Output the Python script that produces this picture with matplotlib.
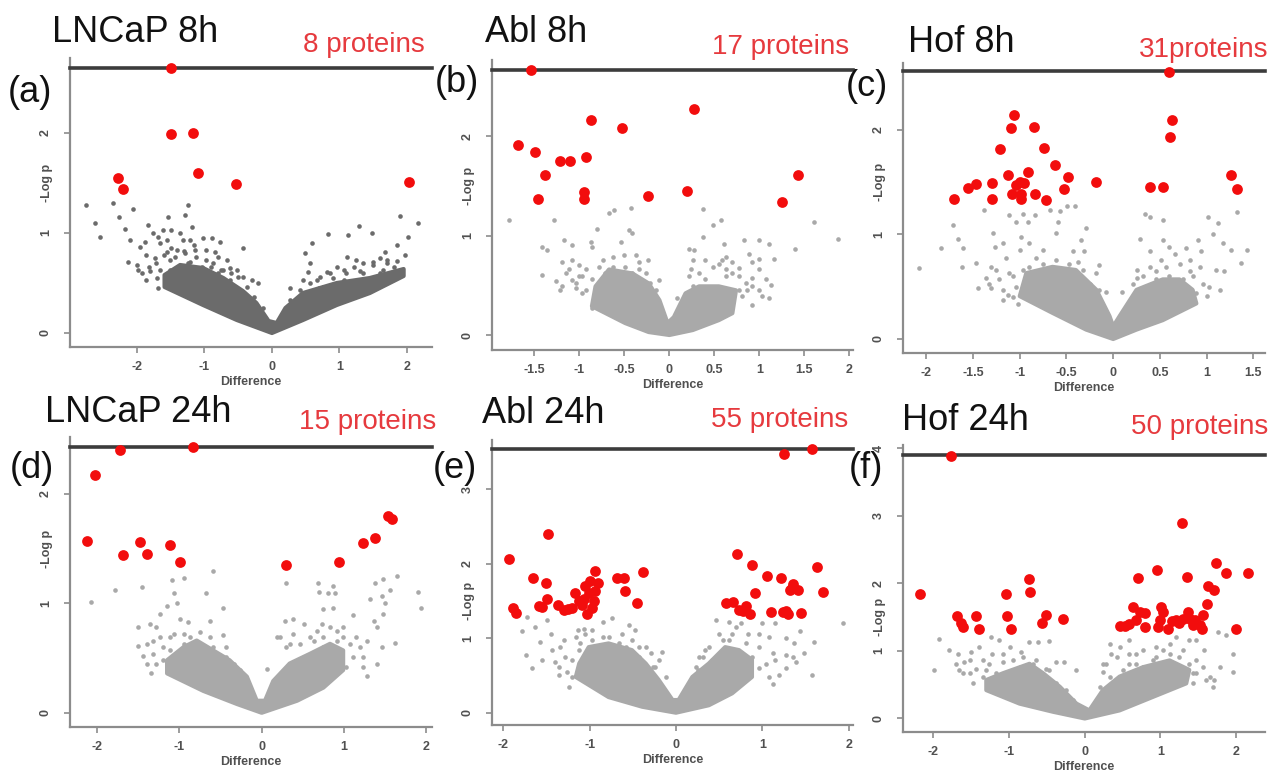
import matplotlib
matplotlib.use("Agg")
import matplotlib.pyplot as plt

plt.rcParams['font.family'] = ['Liberation Sans', 'DejaVu Sans']

# ---------------- data ----------------
titles = ["LNCaP 8h", "Abl 8h", "Hof 8h", "LNCaP 24h", "Abl 24h", "Hof 24h"]
counts = ["8 proteins", "17 proteins", "31proteins", "15 proteins", "55 proteins", "50 proteins"]
letters = ["(a)", "(b)", "(c)", "(d)", "(e)", "(f)"]
xticks_list = [[-2, -1, 0, 1, 2],
               [-1.5, -1, -0.5, 0, 0.5, 1, 1.5, 2],
               [-2, -1.5, -1, -0.5, 0, 0.5, 1, 1.5],
               [-2, -1, 0, 1, 2],
               [-2, -1, 0, 1, 2],
               [-2, -1, 0, 1, 2]]
xtick_labels = [["-2", "-1", "0", "1", "2"],
                ["-1.5", "-1", "-0.5", "0", "0.5", "1", "1.5", "2"],
                ["-2", "-1.5", "-1", "-0.5", "0", "0.5", "1", "1.5"],
                ["-2", "-1", "0", "1", "2"],
                ["-2", "-1", "0", "1", "2"],
                ["-2", "-1", "0", "1", "2"]]
yticks_list = [[0, 1, 2], [0, 1, 2], [0, 1, 2], [0, 1, 2], [0, 1, 2, 3], [0, 1, 2, 3, 4]]
threshold = [2.65, 2.67, 2.56, 2.43, 3.54, 3.90]

# significant proteins (red)
a_red_x = [-1.50, -1.50, -1.17, -1.09, -0.53, -2.28, -2.20, 2.03]
a_red_y = [2.65, 1.99, 2.00, 1.60, 1.49, 1.55, 1.44, 1.51]
b_red_x = [-1.54, 0.27, -0.87, -0.53, -1.68, -1.49, -1.22, -1.10, -0.93, -1.38, 1.43, -1.46, -0.95, -0.95, -0.24, 0.20, 1.25]
b_red_y = [2.67, 2.28, 2.17, 2.09, 1.91, 1.84, 1.75, 1.75, 1.79, 1.61, 1.61, 1.37, 1.44, 1.37, 1.40, 1.45, 1.34]
c_red_x = [0.60, 0.63, 0.61, -1.06, -1.09, -0.85, -1.21, -0.74, -0.62, -1.13, -0.91, -0.48, -0.18, 1.26, 1.32, 0.39,
           0.53, -1.70, -1.55, -1.47, -1.30, -1.30, -1.00, -0.95, -1.08, -0.99, -0.99, -0.84, -0.72, -0.53, -1.04]
c_red_y = [2.55, 2.09, 1.93, 2.14, 2.02, 2.03, 1.82, 1.83, 1.66, 1.57, 1.60, 1.55, 1.50, 1.57, 1.43, 1.45,
           1.45, 1.34, 1.44, 1.48, 1.49, 1.34, 1.50, 1.49, 1.39, 1.39, 1.34, 1.39, 1.33, 1.43, 1.47]
d_red_x = [-0.84, -1.72, -2.03, -2.12, -1.69, -1.48, -1.39, -1.12, -0.99, 0.30, 0.94, 1.23, 1.38, 1.53, 1.58]
d_red_y = [2.43, 2.40, 2.17, 1.57, 1.44, 1.56, 1.45, 1.53, 1.38, 1.35, 1.38, 1.55, 1.60, 1.80, 1.77]
e_red_x = [1.57, 1.25, -1.48, -1.93, 0.71, 0.88, 1.63, -1.65, -1.51, -0.94, -1.00, -0.90, -0.68, -0.60, -0.38,
           -0.59, -0.45, 1.05, 1.22, 1.36, 1.32, 1.41, 0.91, 1.70, 0.58, 0.66, 0.73, 0.81, 0.86, 1.10, 1.24,
           1.30, 1.45, -1.89, -1.85, -1.59, -1.55, -1.49, -1.37, -1.25, -1.20, -1.17, -1.12, -1.06, -1.01,
           -1.03, -0.97, -0.94, -1.09, -1.30, -1.05, 0.78, 1.27, -0.95, 1.34]
e_red_y = [3.54, 3.47, 2.40, 2.06, 2.13, 1.98, 1.96, 1.81, 1.74, 1.90, 1.77, 1.74, 1.81, 1.81, 1.89,
           1.64, 1.47, 1.83, 1.81, 1.73, 1.65, 1.65, 1.60, 1.62, 1.47, 1.49, 1.38, 1.43, 1.33, 1.35, 1.35,
           1.33, 1.34, 1.40, 1.34, 1.43, 1.42, 1.53, 1.44, 1.39, 1.40, 1.60, 1.50, 1.52, 1.60,
           1.33, 1.40, 1.64, 1.44, 1.38, 1.70, 1.36, 1.36, 1.50, 1.68]
f_red_x = [-1.77, 1.28, 1.73, 2.16, 1.86, 0.96, 0.70, 1.35, -0.74, -0.72, -1.04, -2.18, 1.63, 1.70, 1.61, 0.64,
           -1.69, -1.63, -1.61, -1.43, -1.39, -1.03, -0.98, -0.56, -0.51, -0.29, 0.47, 0.53, 0.73, 0.68, 0.79,
           1.01, 1.03, 0.99, 0.97, 1.10, 1.21, 1.30, 1.36, 1.39, 1.45, 1.52, 1.55, 1.56, 2.00, 0.79, 1.25,
           0.58, 1.43, 1.15]
f_red_y = [3.89, 2.89, 2.30, 2.16, 2.15, 2.20, 2.08, 2.09, 2.06, 1.87, 1.85, 1.84, 1.96, 1.90, 1.70, 1.65,
           1.52, 1.42, 1.35, 1.52, 1.33, 1.52, 1.33, 1.42, 1.53, 1.48, 1.37, 1.37, 1.58, 1.46, 1.36,
           1.65, 1.58, 1.46, 1.35, 1.33, 1.46, 1.48, 1.58, 1.48, 1.46, 1.38, 1.32, 1.53, 1.32, 1.56, 1.42,
           1.40, 1.38, 1.45]

# dense cores of non-significant proteins (outline of the grey mass)
a_core_x = [-1.59, -1.02, -0.52, 0.0, 0.46, 0.96, 1.45, 1.95, 1.95, 1.45, 0.96, 0.46, 0.20, 0.07, -0.05, -0.23, -0.43, -0.72, -1.02, -1.36, -1.59]
a_core_y = [0.46, 0.28, 0.13, 0.0, 0.13, 0.28, 0.40, 0.57, 0.64, 0.55, 0.50, 0.40, 0.25, 0.10, 0.12, 0.30, 0.42, 0.55, 0.65, 0.68, 0.58]
b_core_x = [-0.86, -0.49, -0.23, 0.0, 0.26, 0.55, 0.70, 0.74, 0.55, 0.33, 0.18, 0.05, -0.02, -0.11, -0.23, -0.41, -0.67, -0.82]
b_core_y = [0.29, 0.12, 0.03, 0.0, 0.05, 0.15, 0.22, 0.45, 0.49, 0.49, 0.42, 0.18, 0.12, 0.35, 0.52, 0.62, 0.66, 0.49]
c_core_x = [-1.00, -0.65, -0.29, 0.0, 0.25, 0.53, 0.89, 0.85, 0.71, 0.53, 0.25, 0.07, 0.0, -0.04, -0.18, -0.40, -0.65, -0.93]
c_core_y = [0.41, 0.25, 0.09, 0.0, 0.09, 0.18, 0.34, 0.47, 0.57, 0.57, 0.47, 0.22, 0.12, 0.22, 0.47, 0.66, 0.69, 0.63]
d_core_x = [-1.15, -0.71, -0.30, 0.0, 0.43, 0.75, 0.99, 0.99, 0.83, 0.59, 0.34, 0.14, 0.04, -0.06, -0.18, -0.39, -0.59, -0.79, -0.95, -1.15]
d_core_y = [0.36, 0.20, 0.08, 0.0, 0.11, 0.23, 0.39, 0.57, 0.63, 0.54, 0.45, 0.29, 0.11, 0.11, 0.33, 0.48, 0.57, 0.66, 0.60, 0.48]
e_core_x = [-1.16, -0.78, -0.39, 0.0, 0.38, 0.65, 0.88, 0.88, 0.73, 0.57, 0.38, 0.19, 0.03, -0.04, -0.20, -0.35, -0.51, -0.78, -1.01, -1.12]
e_core_y = [0.48, 0.21, 0.08, 0.0, 0.10, 0.26, 0.48, 0.71, 0.84, 0.88, 0.66, 0.48, 0.17, 0.17, 0.44, 0.66, 0.84, 0.93, 0.88, 0.66]
f_core_x = [-1.30, -0.86, -0.42, 0.0, 0.46, 0.90, 1.34, 1.38, 1.12, 0.77, 0.46, 0.24, 0.06, -0.11, -0.33, -0.55, -0.73, -1.08, -1.30]
f_core_y = [0.42, 0.22, 0.10, 0.0, 0.12, 0.32, 0.52, 0.72, 0.86, 0.76, 0.62, 0.42, 0.12, 0.22, 0.47, 0.67, 0.81, 0.67, 0.57]

# scattered non-significant proteins (grey)
a_gray_x = [-2.75, -2.62, -2.55, -2.35, -2.26, -2.18, -2.05, -2.10, -1.83, -2.13, -1.98, -1.86, -1.68, -1.54, -1.49,
            -1.56, -1.24, -1.29, -1.19, -1.21, -1.02, -0.89, -0.77, -0.84, -0.43, -0.30, -0.20, -0.13, 0.27, 0.46,
            0.54, 0.49, 0.56, 0.59, 0.83, 1.13, 1.29, 1.48, 1.90, 2.17, 2.02, 1.97, 1.85, 1.67, 1.60, 1.25, 1.11,
            0.96, 0.81, 0.66, -1.96, -1.76, -1.66, -1.41, -1.12, -0.97, -0.67, -0.52, -0.43, -0.62, -0.72, -1.36,
            -1.86, -1.71, -1.51, -1.31, -1.80, -1.60, -1.45, -1.25, -1.10, -0.90, -1.70, -1.50, -1.30, -1.15, -0.80,
            -0.60, 0.70, 0.90, 1.10, 1.30, 1.50, 1.70, 1.20, 1.60, 1.85,
            -2.00, -1.93, -1.82, -1.73, -1.66, -1.56, -1.51, -1.43, -1.36, -1.29, -1.21, -1.14, -1.04, -0.97, -0.87,
            -0.80, -0.75, -0.62, -0.50, -0.37, -0.27, -1.88, -1.68, -1.61,
            0.27, 0.41, 0.56, 0.71, 0.86, 1.06, 1.21, 1.35, 1.50, 1.70, 1.80, 1.35, 1.06, 0.76, 1.65]
a_gray_y = [1.28, 1.10, 0.96, 1.30, 1.16, 1.04, 1.24, 0.93, 1.08, 0.71, 0.63, 0.53, 0.45, 1.16, 1.03,
            0.93, 1.28, 1.18, 1.06, 0.93, 0.95, 0.95, 0.91, 0.81, 0.85, 0.53, 0.50, 0.25, 0.45, 0.53,
            0.61, 0.80, 0.70, 0.90, 0.99, 0.98, 1.07, 1.00, 1.17, 1.10, 0.96, 0.78, 0.88, 0.81, 0.75, 0.73, 0.76,
            0.66, 0.61, 0.53, 0.86, 1.00, 0.90, 0.83, 0.76, 0.73, 0.73, 0.63, 0.56, 0.53, 0.63, 1.00,
            0.78, 0.70, 0.73, 0.93, 0.62, 0.78, 0.62, 0.70, 0.62, 0.66, 0.55, 0.85, 0.82, 0.88, 0.60,
            0.60, 0.45, 0.55, 0.60, 0.62, 0.68, 0.70, 0.50, 0.60, 0.72,
            0.68, 0.60, 0.66, 0.75, 0.63, 0.81, 0.63, 0.76, 0.66, 0.80, 0.71, 0.83, 0.66, 0.83, 0.70,
            0.76, 0.63, 0.65, 0.56, 0.46, 0.36, 0.91, 0.96, 1.03,
            0.33, 0.43, 0.50, 0.56, 0.60, 0.63, 0.66, 0.70, 0.71, 0.73, 0.66, 0.60, 0.53, 0.46, 0.63]
b_gray_x = [-1.78, -1.28, -1.41, -1.36, -1.41, -1.26, -1.19, -1.17, -1.08, -1.19, -1.08, -1.00, -0.86, -0.87, -0.80,
            -0.67, -0.61, -0.43, -0.54, -0.45, -0.41, -0.24, -0.37, -0.34, -0.50, -0.11, 0.09, 0.22, 0.27, 0.26,
            0.24, 0.37, 0.37, 0.48, 0.57, 0.61, 0.83, 0.92, 1.00, 1.11, 1.00, 0.89, 0.70, 0.77, 0.92, 1.00, 1.16,
            1.13, 1.11, 0.92, 0.77, 1.40, 1.61, 1.87, 0.86, 0.55, 0.40, 0.63, -0.97, -0.74, -0.63, -0.93, -1.04,
            -1.21, -0.86,
            -1.11, -1.00, -0.93, -0.86, -0.78, -0.71, -0.63, -0.56, -0.49, -0.41, -0.34, -0.26, -0.22, -0.15, -1.15,
            -1.04, -0.97, -1.08,
            0.22, 0.26, 0.33, 0.40, 0.48, 0.59, 0.63, 0.70, 0.77, 0.85, 0.92, 1.00, 1.07, 1.03, 0.81, 0.63]
b_gray_y = [1.16, 1.16, 0.89, 0.86, 0.60, 0.54, 0.49, 0.96, 0.91, 0.74, 0.76, 0.71, 0.89, 0.94, 1.07,
            1.23, 1.26, 1.28, 0.94, 1.06, 1.03, 0.76, 0.81, 0.74, 0.81, 0.55, 0.37, 0.87, 0.86, 0.76,
            0.66, 1.27, 0.99, 1.11, 1.16, 0.92, 0.96, 0.74, 0.96, 0.92, 0.77, 0.82, 0.74, 0.67, 0.57, 0.66, 0.77,
            0.50, 0.37, 0.30, 0.45, 0.87, 1.14, 0.97, 0.45, 0.72, 0.76, 0.59, 0.59, 0.76, 0.79, 0.45, 0.47,
            0.45, 0.27,
            0.66, 0.59, 0.66, 0.56, 0.69, 0.62, 0.69, 0.59, 0.69, 0.62, 0.66, 0.62, 0.52, 0.45, 0.62,
            0.52, 0.42, 0.55,
            0.59, 0.49, 0.62, 0.56, 0.69, 0.76, 0.66, 0.62, 0.59, 0.52, 0.49, 0.45, 0.56, 0.39, 0.39, 0.79]
c_gray_x = [-2.08, -1.84, -1.72, -1.66, -1.61, -1.62, -1.47, -1.45, -1.38, -1.31, -1.31, -1.29, -1.27, -1.18, -1.15,
            -1.11, -1.13, -1.04, -1.02, -0.99, -1.00, -0.97, -0.91, -0.90, -0.84, -0.83, -0.75, -0.68, -0.61, -0.59,
            -0.57, -0.49, -0.41, -0.43, -0.34, -0.31, -0.29, -0.38, -0.15, -0.08, 0.09, 0.25, 0.29, 0.34, 0.39,
            0.39, 0.46, 0.53, 0.53, 0.51, 0.60, 0.66, 0.78, 0.82, 0.91, 0.94, 1.02, 1.07, 1.12, 1.18, 1.19, 1.14,
            1.32, 1.37, 1.43, 1.26, 1.10, 1.03, 0.89, 0.68, -1.36, -1.22, -1.07, -0.90,
            -1.33, -1.25, -1.18, -1.11, -1.04, -0.97, -0.90, -0.83, -0.75, -0.68, -0.61, -0.54, -0.47, -0.40, -0.32,
            -0.25, -0.18, -0.15, -1.18, -1.07,
            0.21, 0.25, 0.32, 0.39, 0.46, 0.57, 0.60, 0.71, 0.75, 0.82, 0.85, 0.93, 0.96, 1.00, 0.82]
c_gray_y = [0.68, 0.87, 1.09, 0.96, 0.87, 0.69, 0.73, 0.49, 1.23, 0.49, 0.69, 1.01, 0.88, 0.92, 0.77,
            1.19, 0.42, 1.12, 0.33, 0.98, 0.85, 1.20, 1.12, 0.92, 1.19, 0.77, 0.85, 1.23, 1.01, 1.12,
            1.22, 1.27, 1.27, 0.84, 0.95, 0.84, 1.06, 0.74, 0.71, 0.45, 0.45, 0.58, 0.96, 1.20, 1.17,
            0.84, 0.65, 1.14, 0.95, 0.76, 0.88, 0.81, 0.87, 0.65, 0.95, 0.84, 1.17, 1.00, 1.11, 0.92, 0.65, 0.47,
            1.21, 0.73, 0.85, 0.85, 0.66, 0.50, 0.44, 0.47, 0.58, 0.57, 0.60, 0.69,
            0.53, 0.66, 0.47, 0.63, 0.50, 0.66, 0.53, 0.63, 0.72, 0.60, 0.76, 0.63, 0.72, 0.57, 0.66,
            0.53, 0.63, 0.47, 0.37, 0.40,
            0.53, 0.66, 0.60, 0.69, 0.57, 0.69, 0.60, 0.72, 0.57, 0.76, 0.60, 0.69, 0.53, 0.41, 0.41]
d_gray_x = [-2.07, -1.78, -1.45, -1.09, -0.94, -0.59, -0.68, -0.47, -0.63, -1.07, -1.15, -1.24, -1.36, -1.50, -1.50,
            -1.44, -1.34, -1.28, -1.20, -1.03, -0.99, -0.89, -0.95, -0.75, -0.63, -0.47, -0.43, -0.59, 0.30, 0.28,
            0.38, 0.51, 0.69, 0.70, 0.81, 0.87, 0.89, 0.75, 0.87, 0.73, 0.91, 1.11, 1.15, 1.28, 1.23, 1.36, 1.38,
            1.48, 1.64, 1.56, 1.46, 1.50, 1.48, 1.40, 1.62, 1.46, 1.40, 1.28, 1.32, 1.90, 1.94, 0.18, 0.06, 0.34,
            0.59, 0.75, 0.99, -1.11, -0.87, -1.32, -1.40,
            -1.40, -1.32, -1.24, -1.20, -1.11, -1.07, -1.03, -0.95, -0.87, -0.83, -0.75, -0.71, -0.59, -0.51, -0.43,
            -0.34, -0.26, -1.28,
            0.22, 0.30, 0.38, 0.47, 0.51, 0.63, 0.67, 0.75, 0.83, 0.91, 0.99, 1.07, 1.11, 1.19, 1.23, 1.03]
d_gray_y = [1.01, 1.12, 1.15, 1.21, 1.23, 1.30, 1.09, 0.96, 0.84, 1.09, 0.98, 0.90, 0.81, 0.78, 0.61,
            0.52, 0.36, 0.45, 0.60, 1.00, 0.86, 0.83, 0.72, 0.74, 0.69, 0.71, 0.51, 0.51, 1.19, 0.84,
            0.86, 0.81, 1.19, 1.10, 1.09, 1.16, 1.09, 0.95, 0.96, 0.81, 0.75, 0.89, 0.69, 0.66, 0.51, 0.84, 1.19,
            1.22, 1.25, 1.12, 1.07, 1.00, 0.90, 0.78, 0.64, 0.60, 0.45, 0.34, 1.04, 1.10, 0.96, 0.69, 0.40, 0.63,
            0.69, 0.60, 0.69, 0.69, 0.54, 0.66, 0.45,
            0.63, 0.54, 0.69, 0.48, 0.57, 0.72, 0.48, 0.63, 0.69, 0.57, 0.63, 0.54, 0.60, 0.51, 0.60,
            0.45, 0.39, 0.78,
            0.69, 0.60, 0.72, 0.63, 0.51, 0.66, 0.75, 0.69, 0.78, 0.66, 0.78, 0.63, 0.51, 0.60, 0.42, 0.42]
e_gray_x = [-1.78, -1.74, -1.67, -1.72, -1.63, -1.57, -1.55, -1.49, -1.45, -1.43, -1.40, -1.36, -1.34, -1.30, -1.26,
            -1.20, -1.14, -1.11, -1.24, -1.07, -0.97, -0.85, -0.74, -0.54, -0.47, -0.43, -0.29, -0.16, 0.17, 0.27,
            0.25, 0.46, 0.54, 0.61, 0.65, 0.75, 0.83, 0.96, 1.00, 1.08, 1.15, 1.27, 1.37, 1.44, 1.48, 1.60, 1.58,
            1.39, 1.27, 1.15, 1.12, 0.96, 1.93, 0.34, 0.42, 0.65, -0.66, -0.85, -0.51, -0.24,
            -1.36, -1.28, -1.20, -1.12, -1.05, -0.97, -0.93, -0.85, -0.78, -0.70, -0.62, -0.58, -0.51, -0.43, -0.35,
            -0.27, -0.20, -0.12, -1.16, -1.05,
            0.23, 0.31, 0.38, 0.42, 0.50, 0.57, 0.61, 0.69, 0.73, 0.81, 0.88, 0.96, 1.04, 1.12, 1.19, 1.27, 1.35, 1.08]
e_gray_y = [1.09, 0.77, 0.60, 1.29, 1.15, 0.95, 0.71, 1.24, 1.06, 0.84, 0.68, 0.51, 0.88, 0.97, 0.55,
            0.71, 1.11, 0.93, 0.35, 1.13, 1.11, 1.22, 1.27, 1.18, 1.11, 0.88, 0.80, 0.82, 0.44, 0.75,
            0.57, 1.24, 0.97, 1.22, 1.06, 1.20, 1.06, 1.06, 1.20, 1.02, 1.20, 1.00, 0.93, 1.09, 0.80, 0.95, 0.51,
            0.68, 0.77, 0.71, 0.39, 0.60, 1.20, 0.84, 0.57, 0.75, 0.93, 1.02, 0.75, 0.62,
            0.62, 0.75, 0.48, 0.84, 0.62, 0.97, 0.75, 0.88, 1.02, 0.84, 1.06, 0.88, 0.97, 0.75, 0.88,
            0.62, 0.71, 0.48, 1.02, 1.06,
            0.62, 0.75, 0.88, 0.71, 1.06, 0.80, 0.97, 1.15, 0.75, 0.93, 0.75, 0.88, 0.66, 0.80, 0.51, 0.60, 0.75, 0.48]
f_gray_x = [-1.99, -1.93, -1.79, -1.68, -1.66, -1.59, -1.48, -1.50, -1.39, -1.35, -1.24, -1.22, -1.13, -1.08, -0.99,
            -0.84, -0.73, -0.62, -0.47, -0.38, -0.27, -0.51, -0.51, 0.33, 0.35, 0.24, 0.28, 0.46, 0.59, 0.68,
            0.77, 0.94, 1.03, 1.12, 1.21, 1.25, 1.38, 1.47, 1.58, 1.65, 1.71, 1.76, 1.87, 1.96, 1.96, 1.78, 1.43,
            1.25, 1.07, 0.90, 0.59, 0.46, 0.72, -1.52, -1.30, -0.86, -0.64, -0.11, 1.47,
            -1.70, -1.61, -1.52, -1.43, -1.35, -1.26, -1.17, -1.08, -1.04, -0.95, -0.91, -0.82, -0.77, -0.69, -0.60,
            -0.47, -0.38, -0.25, -0.16, -1.22,
            0.20, 0.24, 0.33, 0.42, 0.50, 0.59, 0.68, 0.77, 0.86, 0.94, 1.03, 1.12, 1.21, 1.30, 1.38, 1.47, 1.56,
            1.60, 1.69, 1.43]
f_gray_y = [0.72, 1.17, 1.01, 0.96, 0.72, 0.84, 0.52, 0.99, 1.06, 0.86, 1.21, 0.96, 1.16, 0.84, 1.06,
            0.99, 1.13, 1.13, 1.15, 0.84, 0.84, 0.57, 0.74, 1.11, 0.96, 0.69, 0.81, 1.06, 1.16, 0.96,
            0.76, 1.06, 1.01, 1.11, 1.21, 0.91, 1.16, 0.86, 1.01, 0.62, 0.57, 1.28, 1.23, 0.96, 0.69, 0.76, 0.67,
            0.57, 0.67, 0.86, 0.81, 0.57, 0.52, 0.67, 0.72, 0.76, 0.86, 0.72, 1.16,
            0.81, 0.67, 0.86, 0.74, 0.62, 0.81, 0.67, 0.96, 0.62, 0.86, 0.72, 0.91, 0.62, 0.81, 0.67,
            0.72, 0.52, 0.42, 0.27, 0.52,
            0.47, 0.81, 0.62, 0.91, 0.72, 0.96, 0.81, 1.01, 0.72, 0.91, 0.81, 0.96, 0.76, 1.01, 0.81, 0.67, 0.76,
            0.57, 0.47, 0.52]

red_x = [a_red_x, b_red_x, c_red_x, d_red_x, e_red_x, f_red_x]
red_y = [a_red_y, b_red_y, c_red_y, d_red_y, e_red_y, f_red_y]
core_x = [a_core_x, b_core_x, c_core_x, d_core_x, e_core_x, f_core_x]
core_y = [a_core_y, b_core_y, c_core_y, d_core_y, e_core_y, f_core_y]
gray_x = [a_gray_x, b_gray_x, c_gray_x, d_gray_x, e_gray_x, f_gray_x]
gray_y = [a_gray_y, b_gray_y, c_gray_y, d_gray_y, e_gray_y, f_gray_y]

# ---------------- layout (pixels) ----------------
W, H = 1273, 775
fig = plt.figure(figsize=(W / 100, H / 100), dpi=100)

boxes = [(70, 432, 58, 347), (492, 853, 60, 350), (903, 1265, 63, 353),
         (70, 432, 437, 727), (492, 853, 440, 725), (903, 1265, 445, 732)]
xlims = [(-2.99, 2.37), (-1.97, 2.04), (-2.25, 1.625), (-2.33, 2.07), (-2.13, 2.05), (-2.40, 2.38)]
ylims = [(-0.14, 2.75), (-0.151, 2.77), (-0.134, 2.64), (-0.13, 2.52), (-0.165, 3.66), (-0.2, 4.05)]
gray_cols = ['#6b6b6b', '#a9a9a9', '#a9a9a9', '#a9a9a9', '#a9a9a9', '#a9a9a9']
ylabel_at = 1.5   # y value (between ticks) where the rotated axis title sits

title_pos = [(52, 33), (485, 33), (908, 43), (45, 412), (482, 413), (902, 420)]
count_pos = [(425, 45), (849, 47), (1268, 50), (436, 422), (848, 420), (1268, 427)]
letter_pos = [(8, 92), (435, 82), (846, 87), (10, 468), (433, 468), (849, 468)]

red_txt = '#e63a3e'
spine_col = '#8c8c8c'
tick_txt = '#505050'

for i in range(6):
    l, r, t, b = boxes[i]
    ax = fig.add_axes([l / W, 1 - b / H, (r - l) / W, (b - t) / H])
    ax.set_xlim(*xlims[i])
    ax.set_ylim(*ylims[i])
    for s in ['top', 'right']:
        ax.spines[s].set_visible(False)
    for s in ['left', 'bottom']:
        ax.spines[s].set_color(spine_col)
        ax.spines[s].set_linewidth(1.6)
    ax.fill(core_x[i], core_y[i], facecolor=gray_cols[i], edgecolor=gray_cols[i],
            lw=3.0, joinstyle='round', zorder=2)
    ax.scatter(gray_x[i], gray_y[i], s=11, color=gray_cols[i], lw=0, zorder=3)
    ax.axhline(threshold[i], color='#3c3c3c', lw=2.6, zorder=4, clip_on=False)
    ax.scatter(red_x[i], red_y[i], s=60, color='#f20d0d', lw=0, zorder=5, clip_on=False)
    ax.set_xticks(xticks_list[i])
    ax.set_xticklabels(xtick_labels[i], fontsize=9, fontweight='bold', color=tick_txt)
    ax.set_yticks(yticks_list[i])
    ax.set_yticklabels([str(v) for v in yticks_list[i]], fontsize=9, fontweight='bold',
                       color=tick_txt, rotation=90, va='center')
    ax.tick_params(axis='both', length=4, width=1.2, color=spine_col)
    ax.tick_params(axis='x', pad=6)
    ax.tick_params(axis='y', pad=9)
    ax.set_xlabel('Difference', fontsize=9, fontweight='bold', color=tick_txt, labelpad=2)
    ax.set_ylabel('-Log p', fontsize=9, fontweight='bold', color=tick_txt)
    y0, y1 = ylims[i]
    ax.yaxis.set_label_coords(-17.0 / (r - l), (ylabel_at - y0) / (y1 - y0))

    tx, ty = title_pos[i]
    fig.text(tx / W, 1 - ty / H, titles[i], fontsize=26, color='#111111', ha='left', va='center')
    cx, cy = count_pos[i]
    fig.text(cx / W, 1 - cy / H, counts[i], fontsize=20, color=red_txt, ha='right', va='center')
    lx, ly = letter_pos[i]
    fig.text(lx / W, 1 - ly / H, letters[i], fontsize=26, color='#111111', ha='left', va='center')

fig.savefig('out.png', dpi=100, facecolor='white')
